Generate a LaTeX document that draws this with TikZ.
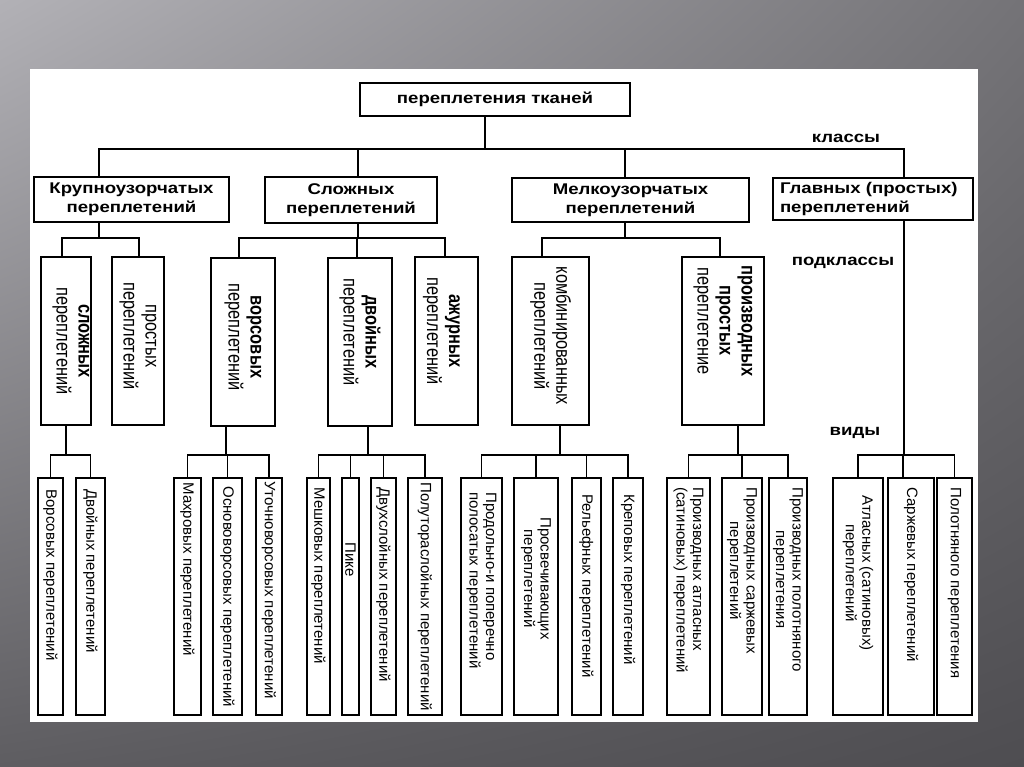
\documentclass[tikz,border=0pt]{standalone}
\usepackage{fontspec}
\setmainfont{Liberation Sans}
\newfontfamily\widesans[FakeStretch=1.2]{Liberation Sans}
\newfontfamily\narrowsans[FakeStretch=0.82]{Liberation Sans}
\usepackage{tikz}
\usetikzlibrary{positioning,shadings}
\definecolor{slideul}{HTML}{B2B1B6}
\definecolor{slideur}{HTML}{747377}
\definecolor{slidell}{HTML}{5E5D61}
\definecolor{slidelr}{HTML}{4E4D51}

\begin{document}
\begin{tikzpicture}[x=1pt, y=-1pt, box/.style={draw=black, line width=1.6pt, fill=white, inner sep=0pt}, classbox/.style={box, align=center, font=\widesans\bfseries\fontsize{15.5}{19}\selectfont}, subtext/.style={rotate=-90, align=center, inner sep=0pt, font=\narrowsans\fontsize{20}{22}\selectfont}, kindtext/.style={rotate=-90, anchor=west, align=center, inner sep=0pt, font=\fontsize{15}{16.5}\selectfont}, tier/.style={font=\widesans\bfseries\fontsize{15.5}{19}\selectfont}, link/.style={draw=black, line width=1.6pt}]
\useasboundingbox (0,0) rectangle (1024,767);
\shade[upper left=slideul, upper right=slideur, lower left=slidell, lower right=slidelr] (0,0) rectangle (1024,767);
\fill[white] (30,69) rectangle (978,722);
% корень и классы
\node[classbox, minimum width=270pt, minimum height=33pt] (root) at (495,99.5) {переплетения тканей};
\node[classbox, minimum width=195pt, minimum height=45pt] (cls1) at (131.5,199.5) {Крупноузорчатых\\переплетений};
\node[classbox, minimum width=172pt, minimum height=46pt] (cls2) at (351,200) {Сложных\\переплетений};
\node[classbox, minimum width=237pt, minimum height=44pt] (cls3) at (630.5,200) {Мелкоузорчатых\\переплетений};
\node[classbox, minimum width=200pt, minimum height=42pt, text width=186pt, align=left] (cls4) at (873,199) {Главных (простых)\\переплетений};
\node[tier] (tier1) at (846,138) {классы};
\node[tier] (tier2) at (843,263) {подклассы};
\node[tier] (tier3) at (855,433) {виды};
% подклассы
\node[box, minimum width=50pt, minimum height=168pt] (sub1) at (66,341) {};
\node[box, minimum width=52pt, minimum height=168pt] (sub2) at (138,341) {};
\node[box, minimum width=64pt, minimum height=168pt] (sub3) at (243,342) {};
\node[box, minimum width=64pt, minimum height=168pt] (sub4) at (360,342) {};
\node[box, minimum width=63pt, minimum height=168pt] (sub5) at (446.5,341) {};
\node[box, minimum width=77pt, minimum height=168pt] (sub6) at (550.5,341) {};
\node[box, minimum width=82pt, minimum height=168pt] (sub7) at (723,341) {};
\node[subtext] (sub1t) at ([xshift=5pt]sub1.center) {\textbf{сложных}\\переплетений};
\node[subtext] (sub2t) at ([yshift=5pt]sub2.center) {простых\\переплетений};
\node[subtext] (sub3t) at ([yshift=5pt]sub3.center) {\textbf{ворсовых}\\переплетений};
\node[subtext] (sub4t) at ([yshift=10pt]sub4.center) {\textbf{двойных}\\переплетений};
\node[subtext] (sub5t) at ([xshift=-5pt,yshift=10pt]sub5.center) {\textbf{ажурных}\\переплетений};
\node[subtext] (sub6t) at ([yshift=5pt]sub6.center) {комбинированных\\переплетений};
\node[subtext] (sub7t) at ([yshift=20pt]sub7.center) {\textbf{производных}\\\textbf{простых}\\переплетение};
% виды
\node[box, minimum width=25pt, minimum height=237pt] (kind1) at (50.5,596.5) {};
\node[box, minimum width=29pt, minimum height=237pt] (kind2) at (90.5,596.5) {};
\node[box, minimum width=27pt, minimum height=237pt] (kind3) at (187.5,596.5) {};
\node[box, minimum width=29pt, minimum height=237pt] (kind4) at (227.5,596.5) {};
\node[box, minimum width=26pt, minimum height=237pt] (kind5) at (269,596.5) {};
\node[box, minimum width=23pt, minimum height=237pt] (kind6) at (318.5,596.5) {};
\node[box, minimum width=17pt, minimum height=237pt] (kind7) at (350.5,596.5) {};
\node[box, minimum width=25pt, minimum height=237pt] (kind8) at (383.5,596.5) {};
\node[box, minimum width=34pt, minimum height=237pt] (kind9) at (425,596.5) {};
\node[box, minimum width=41pt, minimum height=237pt] (kind10) at (481.5,596.5) {};
\node[box, minimum width=44pt, minimum height=237pt] (kind11) at (536,596.5) {};
\node[box, minimum width=29pt, minimum height=237pt] (kind12) at (586.5,596.5) {};
\node[box, minimum width=30pt, minimum height=237pt] (kind13) at (628,596.5) {};
\node[box, minimum width=43pt, minimum height=237pt] (kind14) at (688.5,596.5) {};
\node[box, minimum width=40pt, minimum height=237pt] (kind15) at (742,596.5) {};
\node[box, minimum width=38pt, minimum height=237pt] (kind16) at (788,596.5) {};
\node[box, minimum width=50pt, minimum height=237pt] (kind17) at (858,596.5) {};
\node[box, minimum width=46pt, minimum height=237pt] (kind18) at (911,596.5) {};
\node[box, minimum width=35pt, minimum height=237pt] (kind19) at (954.5,596.5) {};
\node[kindtext] (kind1t) at ([yshift=-12pt]kind1.north) {Ворсовых переплетений};
\node[kindtext] (kind2t) at ([yshift=-12pt]kind2.north) {Двойных переплетений};
\node[kindtext] (kind3t) at ([yshift=-5pt]kind3.north) {Махровых переплетений};
\node[kindtext] (kind4t) at ([yshift=-9pt]kind4.north) {Основоворсовых переплетений};
\node[kindtext] (kind5t) at ([yshift=-4pt]kind5.north) {Уточноворсовых переплетений};
\node[kindtext] (kind6t) at ([yshift=-10pt]kind6.north) {Мешковых переплетений};
\node[kindtext] (kind7t) at ([yshift=-65pt]kind7.north) {Пике};
\node[kindtext] (kind8t) at ([yshift=-10pt]kind8.north) {Двухслойных переплетений};
\node[kindtext] (kind9t) at ([yshift=-5pt]kind9.north) {Полутораслойных переплетений};
\node[kindtext, align=left] (kind10t) at ([yshift=-15pt]kind10.north) {Продольно-и поперечно\\полосатых переплетений};
\node[kindtext] (kind11t) at ([yshift=-40pt]kind11.north) {Просвечивающих\\переплетений};
\node[kindtext] (kind12t) at ([yshift=-17pt]kind12.north) {Рельефных переплетений};
\node[kindtext] (kind13t) at ([yshift=-17pt]kind13.north) {Креповых переплетений};
\node[kindtext, align=left] (kind14t) at ([yshift=-10pt]kind14.north) {Производных атласных\\(сатиновых) переплетений};
\node[kindtext] (kind15t) at ([yshift=-10pt]kind15.north) {Производных саржевых\\переплетений};
\node[kindtext] (kind16t) at ([yshift=-10pt]kind16.north) {Производных полотняного\\переплетения};
\node[kindtext] (kind17t) at ([yshift=-18pt]kind17.north) {Атласных (сатиновых)\\переплетений};
\node[kindtext] (kind18t) at ([yshift=-10pt]kind18.north) {Саржевых переплетений};
\node[kindtext] (kind19t) at ([yshift=-10pt]kind19.north) {Полотняного переплетения};
% связи: классы
\coordinate (fR) at (485,149);
\draw[link] (root.south -| fR) -- (fR);
\draw[link] (fR) -| ([xshift=-32.5pt]cls1.north);
\draw[link] (fR) -| ([xshift=7pt]cls2.north);
\draw[link] (fR) -| ([xshift=-5.5pt]cls3.north);
\draw[link] (fR) -| ([xshift=31pt]cls4.north);
% связи: подклассы
\coordinate (fK) at (99,238);
\draw[link] (cls1.south -| fK) -- (fK);
\draw[link] (fK) -| ([xshift=-4pt]sub1.north);
\draw[link] (fK) -| ([xshift=1pt]sub2.north);
\coordinate (fS) at (358,238);
\draw[link] (cls2.south -| fS) -- (fS);
\draw[link] (fS) -| ([xshift=-4pt]sub3.north);
\draw[link] (fS) -| ([xshift=-3pt]sub4.north);
\draw[link] (fS) -| ([xshift=-1.5pt]sub5.north);
\coordinate (fM) at (625,238);
\draw[link] (cls3.south -| fM) -- (fM);
\draw[link] (fM) -| ([xshift=-8.5pt]sub6.north);
\draw[link] (fM) -| ([xshift=-3pt]sub7.north);
% связи: виды
\coordinate (fA) at (66,455);
\draw[link] (sub1.south -| fA) -- (fA);
\draw[link] (fA) -| (kind1.north);
\draw[link] (fA) -| (kind2.north);
\coordinate (fC) at (226,455);
\draw[link] (sub3.south -| fC) -- (fC);
\draw[link] (fC) -| (kind3.north);
\draw[link] (fC) -| (kind4.north);
\draw[link] (fC) -| (kind5.north);
\coordinate (fD) at (368,455);
\draw[link] (sub4.south -| fD) -- (fD);
\draw[link] (fD) -| (kind6.north);
\draw[link] (fD) -| (kind7.north);
\draw[link] (fD) -| (kind8.north);
\draw[link] (fD) -| (kind9.north);
\coordinate (fF) at (560,455);
\draw[link] (sub6.south -| fF) -- (fF);
\draw[link] (fF) -| (kind10.north);
\draw[link] (fF) -| (kind11.north);
\draw[link] (fF) -| (kind12.north);
\draw[link] (fF) -| (kind13.north);
\coordinate (fP) at (738,455);
\draw[link] (sub7.south -| fP) -- (fP);
\draw[link] (fP) -| (kind14.north);
\draw[link] (fP) -| (kind15.north);
\draw[link] (fP) -| (kind16.north);
\coordinate (fG) at (904,455);
\draw[link] (cls4.south -| fG) -- (fG);
\draw[link] (fG) -| (kind17.north);
\draw[link] (fG) -| ([xshift=-8pt]kind18.north);
\draw[link] (fG) -| (kind19.north);
\end{tikzpicture}
\end{document}
